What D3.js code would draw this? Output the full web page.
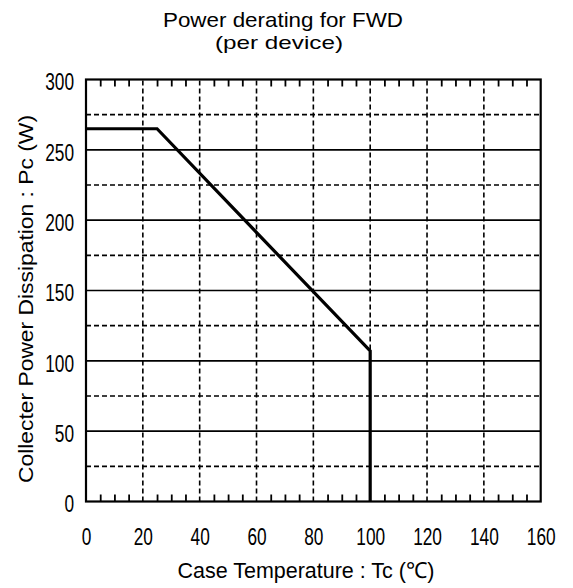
<!DOCTYPE html>
<html><head><meta charset="utf-8">
<script src="https://cdn.jsdelivr.net/npm/d3@7"></script>
<style>body{margin:0;background:#fff}svg{display:block}text{fill:#000}</style>
</head><body>
<script>
const titleLines = ["Power derating for FWD", "(per device)"];
const xLabel = "Case Temperature : Tc (\u2103)";
const yLabel = "Collecter Power Dissipation : Pc (W)";
const xTicks = [0, 20, 40, 60, 80, 100, 120, 140, 160];
const yTicks = [0, 50, 100, 150, 200, 250, 300];
const yDashed = [25, 75, 125, 175, 225, 275];
const xMinor = [5,10,15,25,30,35,45,50,55,65,70,75,85,90,95,105,110,115,125,130,135,145,150,155];
const tc = [0, 25, 100, 100];
const pc = [265, 265, 107, 0];

const W = 573, H = 588;
const m = {left: 86, right: 540.7, top: 79.5, bottom: 501.5};
const svg = d3.select("body").append("svg").attr("width", W).attr("height", H);
const x = d3.scaleLinear().domain([0, 160]).range([m.left, m.right]);
const y = d3.scaleLinear().domain([0, 300]).range([m.bottom, m.top]);
const font = "'Liberation Sans',Arial,sans-serif";
const digitW = 9.6;

// dashed horizontal grid
svg.append("g").selectAll("line").data(yDashed).join("line")
  .attr("x1", x(0)).attr("x2", x(160)).attr("y1", d => y(d)).attr("y2", d => y(d))
  .attr("stroke", "#000").attr("stroke-width", 1.6).attr("stroke-dasharray", "5,3");
// solid horizontal grid
svg.append("g").selectAll("line").data(yTicks.slice(1, -1)).join("line")
  .attr("x1", x(0)).attr("x2", x(160)).attr("y1", d => y(d)).attr("y2", d => y(d))
  .attr("stroke", "#000").attr("stroke-width", 1.6);
// dashed vertical grid
svg.append("g").selectAll("line").data(xTicks.slice(1, -1)).join("line")
  .attr("x1", d => x(d)).attr("x2", d => x(d)).attr("y1", y(0)).attr("y2", y(300))
  .attr("stroke", "#000").attr("stroke-width", 1.6).attr("stroke-dasharray", "5,3");

// minor ticks top & bottom, inward
const axB = d3.axisBottom(x).tickValues(xMinor).tickSize(-7).tickFormat("");
const axT = d3.axisTop(x).tickValues(xMinor).tickSize(-7).tickFormat("");
[[axB, y(0)], [axT, y(300)]].forEach(([ax, ty]) => {
  const g = svg.append("g").attr("transform", `translate(0,${ty})`).call(ax);
  g.select(".domain").remove();
  g.selectAll(".tick line").attr("stroke", "#000").attr("stroke-width", 1.8);
});

// frame
svg.append("rect").attr("x", x(0)).attr("y", y(300))
  .attr("width", x(160) - x(0)).attr("height", y(0) - y(300))
  .attr("fill", "none").attr("stroke", "#000").attr("stroke-width", 2.2);

// data line
svg.append("path").datum(tc.map((d, i) => [d, pc[i]]))
  .attr("d", d3.line().x(d => x(d[0])).y(d => y(d[1])))
  .attr("fill", "none").attr("stroke", "#000").attr("stroke-width", 3.2)
  .attr("stroke-linejoin", "miter");

// tick labels
const xa = svg.append("g").attr("transform", `translate(0,${y(0)})`)
  .call(d3.axisBottom(x).tickValues(xTicks).tickSize(0).tickPadding(26).tickFormat(d3.format("d")));
xa.select(".domain").remove();
xa.selectAll("text").attr("font-family", font).attr("font-size", 23).attr("fill", "#000")
  .attr("dy", "0.76em")
  .attr("textLength", d => String(d).length * digitW).attr("lengthAdjust", "spacingAndGlyphs");
const ya = svg.append("g").attr("transform", `translate(${x(0)},0)`)
  .call(d3.axisLeft(y).tickValues(yTicks).tickSize(0).tickPadding(12).tickFormat(d3.format("d")));
ya.select(".domain").remove();
ya.selectAll("text").attr("font-family", font).attr("font-size", 23).attr("fill", "#000")
  .attr("dy", "0.45em")
  .attr("textLength", d => String(d).length * digitW).attr("lengthAdjust", "spacingAndGlyphs");

// titles
function label(t, cx, by, size, len, rot) {
  const el = svg.append("text").attr("text-anchor", "middle")
    .attr("font-family", font).attr("font-size", size)
    .attr("textLength", len).attr("lengthAdjust", "spacingAndGlyphs").text(t);
  if (rot) el.attr("transform", `translate(${cx},${by}) rotate(-90)`);
  else el.attr("x", cx).attr("y", by);
  return el;
}
label(titleLines[0], 283, 27, 21, 240);
label(titleLines[1], 279, 49, 19, 128);
label(xLabel, 306, 578, 22, 257);
label(yLabel, 33, 299, 21, 368, true);
</script>
</body></html>
